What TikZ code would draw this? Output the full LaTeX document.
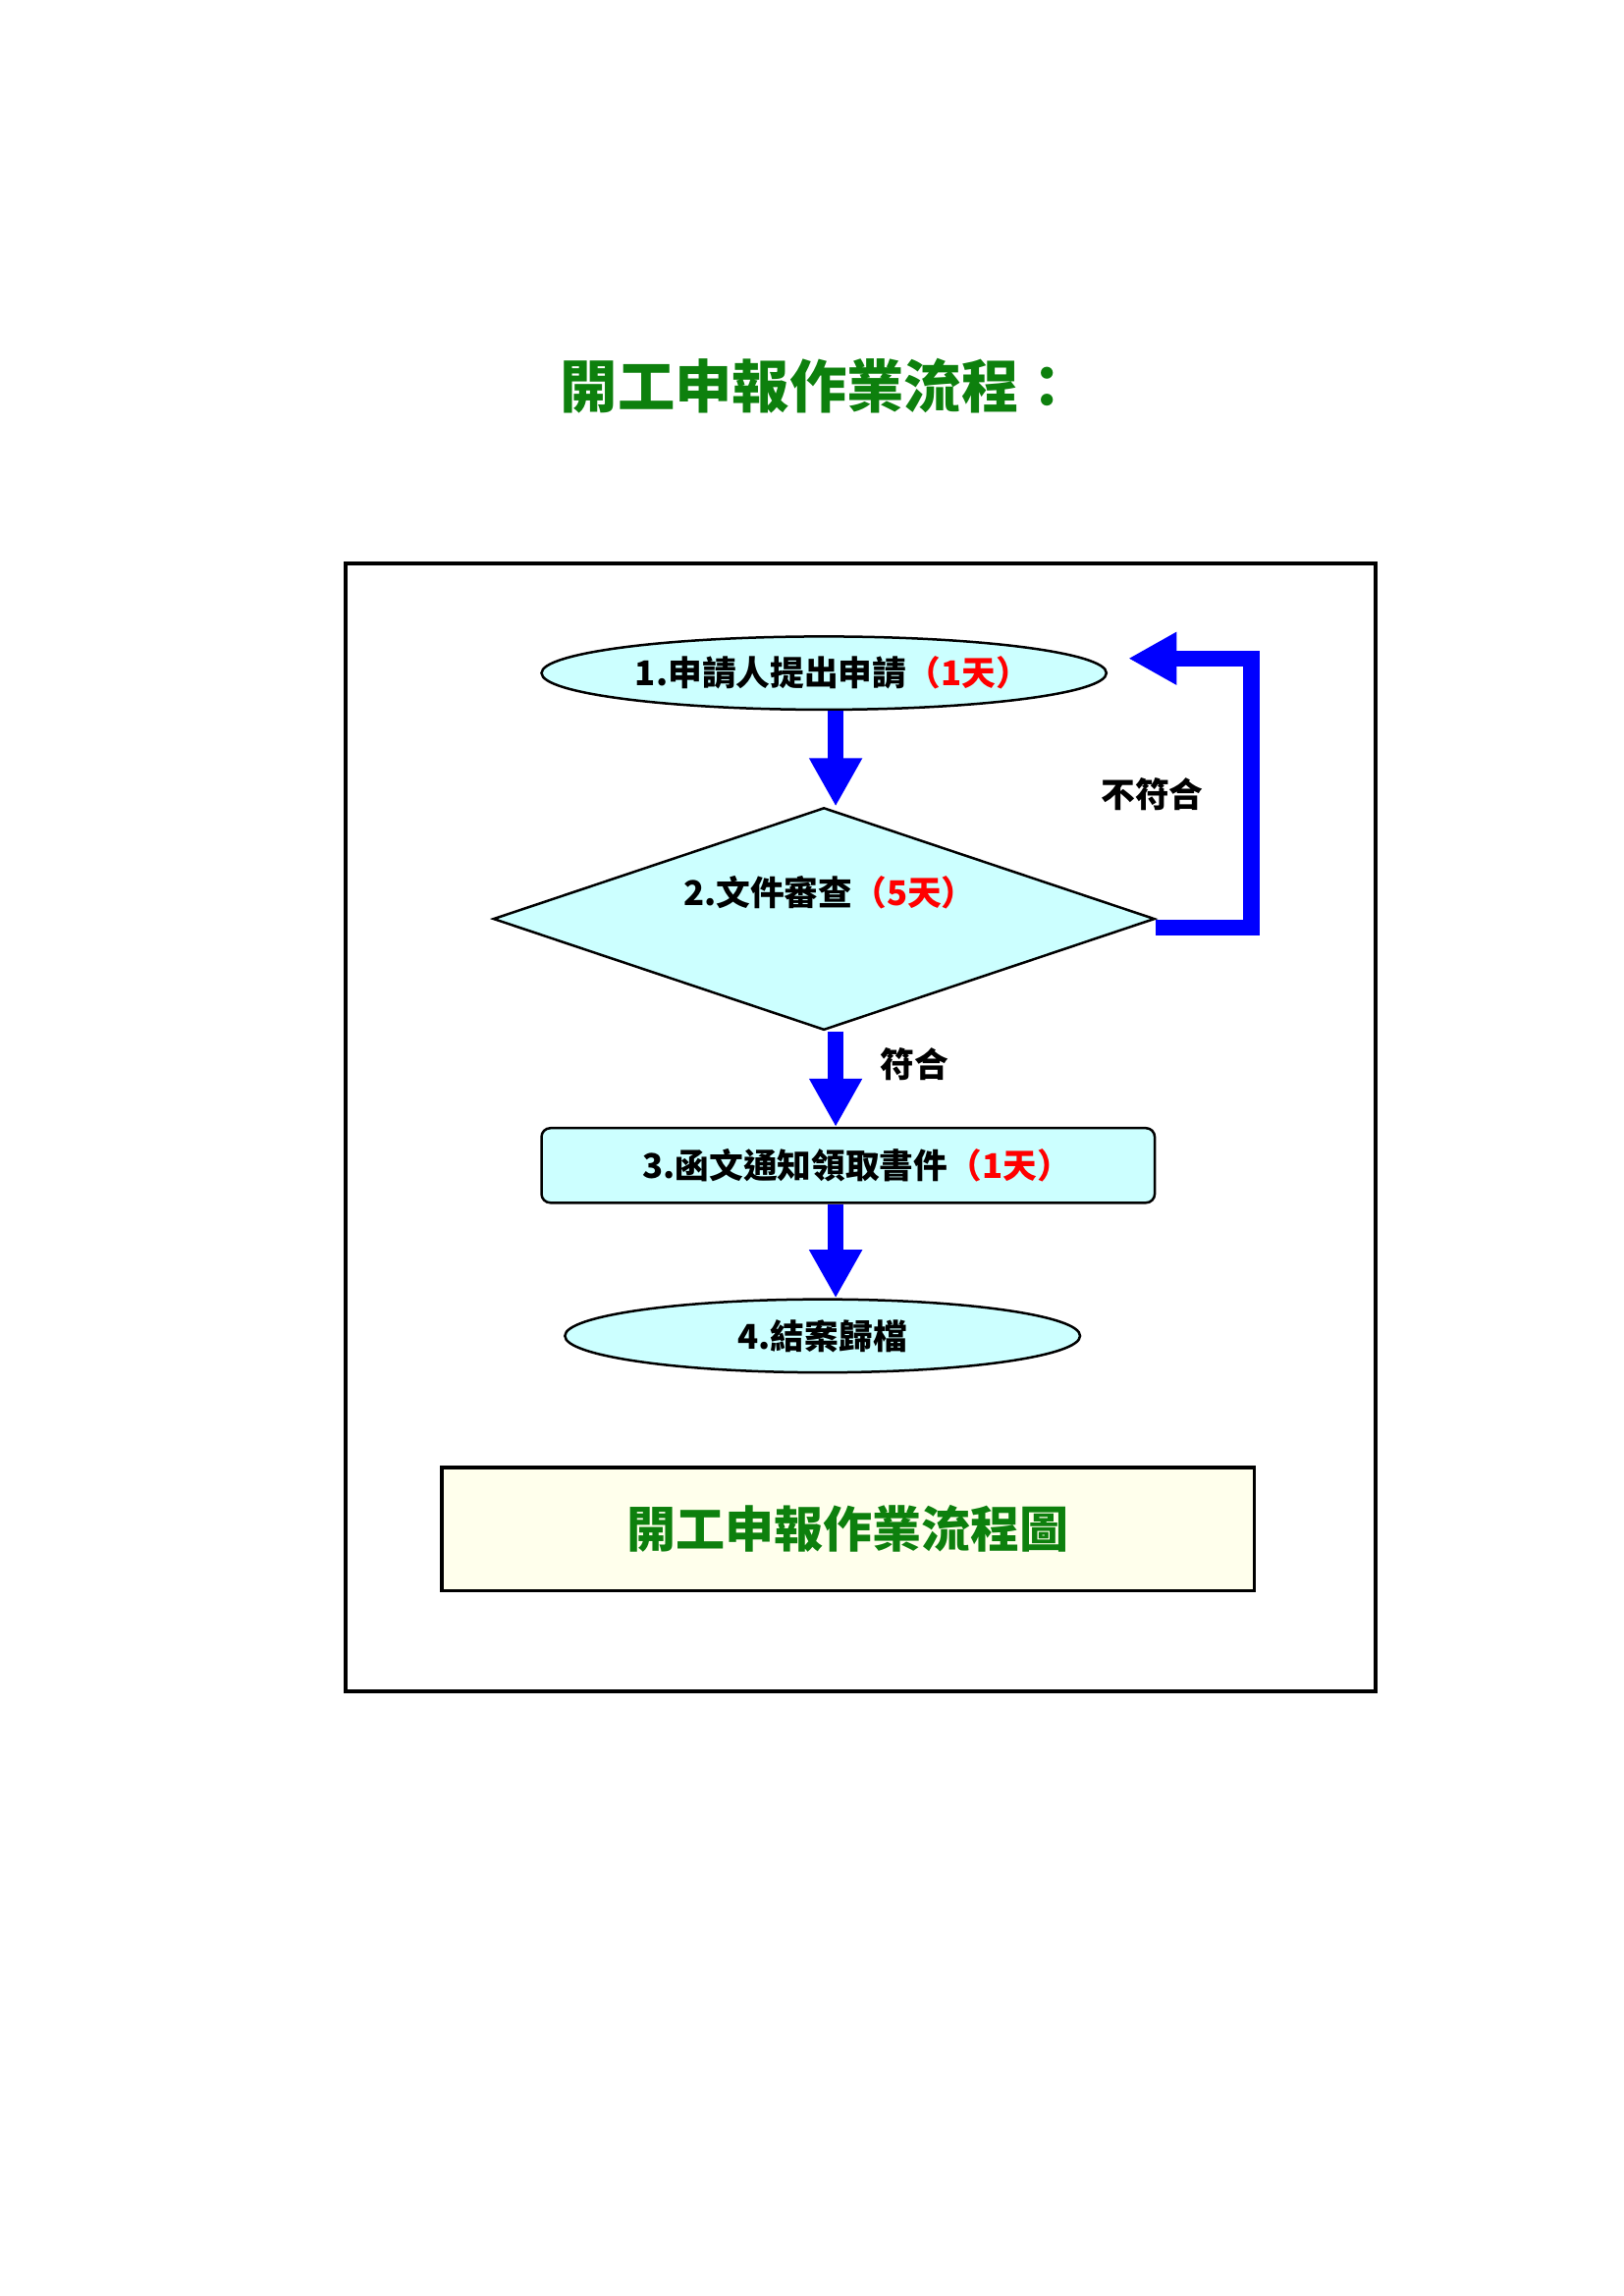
\documentclass[tikz,border=0pt]{standalone}
\usepackage{fontspec}
\setmainfont{Noto Sans CJK TC}
\usetikzlibrary{shapes.geometric,arrows.meta}

\newlength{\du}
\setlength{\du}{0.5365pt}

% red day count; the kern drops the blank half of the closing bracket
\newcommand{\daycount}[1]{\textcolor{red}{（#1天）}\kern-0.5em}

\tikzset{
  steptext/.style={font=\fontsize{12.5}{15}\selectfont\bfseries, inner sep=0pt},
  terminal/.style={ellipse, draw, line width=0.9pt, fill=boxfill, minimum width=386\du, minimum height=50\du, steptext},
  decision/.style={diamond, draw, line width=0.9pt, fill=boxfill, minimum width=452\du, minimum height=152\du, inner sep=0pt},
  process/.style={rectangle, rounded corners=6\du, draw, line width=0.9pt, fill=boxfill, minimum width=419\du, minimum height=51\du, steptext},
  caption/.style={rectangle, draw, line width=1.2pt, fill=capfill, minimum width=555\du, minimum height=84\du, text=titlegreen, font=\fontsize{18}{22}\selectfont\bfseries},
  % arrow tip sizes in pt (34 and 33 du)
  flowarrow/.style={draw=flowblue, line width=11\du, -{Triangle[width=18.2pt,length=17.7pt]}}
}

\begin{document}
\begin{tikzpicture}
\pgftransformxscale{1.000000}
\pgftransformyscale{-1.000000}
\definecolor{boxfill}{rgb}{0.800000, 1.000000, 1.000000}
\definecolor{capfill}{rgb}{1.000000, 1.000000, 0.925000}
\definecolor{titlegreen}{rgb}{0.050000, 0.500000, 0.050000}
\definecolor{flowblue}{rgb}{0.000000, 0.000000, 1.000000}

\useasboundingbox (0\du,0\du) rectangle (1109.6\du,1569.2\du);

\node[text=titlegreen, font=\fontsize{21}{25}\selectfont\bfseries] (title) at (559\du,264\du) {開工申報作業流程：};

\draw[line width=1.5pt] (236\du,385\du) rectangle (940\du,1156\du);

\node[terminal] (e1) at (563\du,460\du) {1.申請人提出申請\daycount{1}};
\node[decision] (d2) at (563\du,628\du) {};
\node[steptext] (d2t) at (561\du,610\du) {2.文件審查\daycount{5}};
\node[process] (p3) at (579.5\du,796.5\du) {3.函文通知領取書件\daycount{1}};
\node[terminal, minimum width=352\du] (e4) at (562\du,913\du) {4.結案歸檔};
\node[caption] (cap) at (579.5\du,1045\du) {開工申報作業流程圖};

\coordinate (ax) at (571\du,0\du);
\coordinate (turn) at (855\du,634\du);
\coordinate (back) at (771\du,450\du);

\draw[flowarrow] (e1.south -| ax) -- (d2.north -| ax);
\draw[flowarrow] (d2.south -| ax) -- (p3.north -| ax);
\draw[flowarrow] (p3.south -| ax) -- (e4.north -| ax);
\draw[flowarrow] (d2.east |- turn) -- (turn) |- (back);

\node[steptext, anchor=west] (no) at (752\du,543\du) {不符合};
\node[steptext, anchor=west] (yes) at (601\du,727\du) {符合};

\end{tikzpicture}
\end{document}
